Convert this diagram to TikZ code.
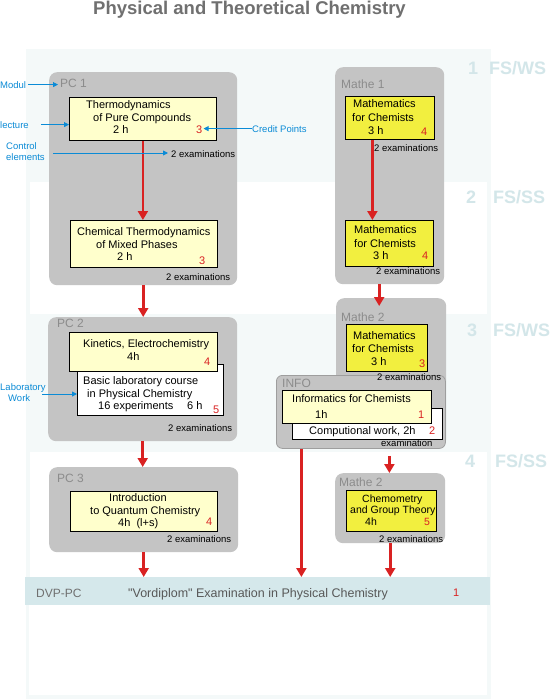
\documentclass[tikz,border=0pt]{standalone}
\usepackage{fontspec}
\setmainfont{Liberation Sans}
\newfontfamily\barfont{Liberation Sans}
\usetikzlibrary{arrows.meta}
\definecolor{palebg}{HTML}{F4F9F9}
\definecolor{barc}{HTML}{D5E8EB}
\definecolor{semc}{HTML}{D3E6E9}
\definecolor{grayb}{HTML}{C4C4C4}
\definecolor{lblgray}{HTML}{8C8C8C}
\definecolor{paley}{HTML}{FFFFCC}
\definecolor{brighty}{HTML}{F2EF3F}
\definecolor{redc}{HTML}{D92222}
\definecolor{bluec}{HTML}{0B8BD6}
\definecolor{titlec}{HTML}{707070}
\definecolor{bartxt}{HTML}{585858}
\tikzset{
  gbox/.style={fill=grayb, rounded corners=8pt, inner sep=0pt, anchor=north west},
  pbox/.style={draw=black, line width=0.8pt, fill=paley, inner sep=0pt, anchor=north west},
  ybox/.style={draw=black, line width=0.8pt, fill=brighty, inner sep=0pt, anchor=north west},
  wbox/.style={draw=black, line width=0.8pt, fill=white, inner sep=0pt, anchor=north west},
  txt/.style={anchor=base west, inner sep=0pt, font=\fontsize{11}{13}\selectfont},
  stxt/.style={anchor=base west, inner sep=0pt, font=\fontsize{10.5}{12}\selectfont},
  rtxt/.style={txt, text=redc},
  extxt/.style={anchor=base west, inner sep=0pt, font=\fontsize{9.5}{11}\selectfont},
  modlbl/.style={anchor=base west, inner sep=0pt, text=lblgray, font=\fontsize{12}{14}\selectfont},
  note/.style={anchor=base west, inner sep=0pt, text=bluec, font=\fontsize{9.5}{11}\selectfont},
  semlbl/.style={anchor=base west, inner sep=0pt, text=semc, font=\fontsize{18}{20}\selectfont\bfseries},
  redarrow/.style={draw=redc, line width=2.6pt, -{Triangle[width=10pt,length=9pt]}},
  bluearrow/.style={draw=bluec, line width=0.9pt, -{Triangle[width=5pt,length=5pt]}},
}
\begin{document}
\begin{tikzpicture}[x=1pt,y=-1pt]
\useasboundingbox (0,0) rectangle (550,699);
% background bands
\fill[white] (0,0) rectangle (550,699);
\fill[palebg] (26,49) rectangle (491,699);
\fill[white] (30,182) rectangle (487,314);
\fill[white] (30,452) rectangle (487,577);
\fill[white] (29,605) rectangle (487,695);
% title
\node[anchor=base, inner sep=0pt, text=titlec, font=\fontsize{18.5}{20}\selectfont\bfseries] (title) at (249.5,14) {Physical and Theoretical Chemistry};
% semester labels
\node[semlbl] (s1) at (468,74) {1};
\node[semlbl] (s1t) at (489,74) {FS/WS};
\node[semlbl] (s2) at (466,203) {2};
\node[semlbl] (s2t) at (493,203) {FS/SS};
\node[semlbl] (s3) at (467,336) {3};
\node[semlbl] (s3t) at (493,336) {FS/WS};
\node[semlbl] (s4) at (465,467) {4};
\node[semlbl] (s4t) at (495,467) {FS/SS};

% ---------- PC 1 ----------
\node[gbox, minimum width=188pt, minimum height=213pt] (pc1) at (49,72) {};
\node[modlbl] (pc1l) at (60,87) {PC 1};
\node[pbox, minimum width=147pt, minimum height=43pt] (pc1a) at (69,97) {};
\node[txt] (pc1a1) at (86,108) {Thermodynamics};
\node[txt] (pc1a2) at (93,121) {of Pure Compounds};
\node[txt] (pc1a3) at (113,133) {2 h};
\node[rtxt] (pc1acp) at (196,133) {3};
\node[extxt] (ex1) at (171,157) {2 examinations};
\node[pbox, minimum width=147pt, minimum height=47pt] (pc1b) at (70,220) {};
\node[txt] (pc1b1) at (77,235) {Chemical Thermodynamics};
\node[txt] (pc1b2) at (96,248) {of Mixed Phases};
\node[txt] (pc1b3) at (117,260) {2 h};
\node[rtxt] (pc1bcp) at (199,264) {3};
\node[extxt] (ex2) at (166,280) {2 examinations};

% ---------- Mathe 1 ----------
\node[gbox, minimum width=109pt, minimum height=217pt] (m1) at (335,67) {};
\node[modlbl] (m1l) at (341,88) {Mathe 1};
\node[ybox, minimum width=89pt, minimum height=43pt] (m1a) at (345,96) {};
\node[txt] (m1a1) at (353,107) {Mathematics};
\node[txt] (m1a2) at (352,121) {for Chemists};
\node[txt] (m1a3) at (368,134) {3 h};
\node[rtxt] (m1acp) at (421,135) {4};
\node[extxt] (ex3) at (374,151) {2 examinations};
\node[ybox, minimum width=88pt, minimum height=46pt] (m1b) at (345,220) {};
\node[txt] (m1b1) at (354,233) {Mathematics};
\node[txt] (m1b2) at (354,247) {for Chemists};
\node[txt] (m1b3) at (373,259) {3 h};
\node[rtxt] (m1bcp) at (422,259) {4};
\node[extxt] (ex4) at (376,274) {2 examinations};

% ---------- PC 2 ----------
\node[gbox, minimum width=189pt, minimum height=124pt] (pc2) at (48,317) {};
\node[modlbl] (pc2l) at (57,327) {PC 2};
\node[wbox, minimum width=146pt, minimum height=51pt] (pc2b) at (77,364) {};
\node[pbox, minimum width=148pt, minimum height=39pt] (pc2a) at (69,332) {};
\node[txt] (pc2a1) at (83,347) {Kinetics, Electrochemistry};
\node[txt] (pc2a2) at (127,360) {4h};
\node[rtxt] (pc2acp) at (204,365) {4};
\node[txt] (pc2b1) at (83,384) {Basic laboratory course};
\node[txt] (pc2b2) at (87,397) {in Physical Chemistry};
\node[txt] (pc2b3) at (98,409) {16 experiments};
\node[txt] (pc2b4) at (187,409) {6 h};
\node[rtxt] (pc2bcp) at (213,413) {5};
\node[extxt] (ex5) at (168,431) {2 examinations};

% ---------- Mathe 2 (semester 3) ----------
\node[gbox, minimum width=110pt, minimum height=149pt] (m2) at (336,298) {};
\node[modlbl] (m2l) at (341,321) {Mathe 2};
\node[ybox, minimum width=81pt, minimum height=47pt] (m2a) at (346,324) {};
\node[txt] (m2a1) at (353,339) {Mathematics};
\node[txt] (m2a2) at (352,352) {for Chemists};
\node[txt] (m2a3) at (371,365) {3 h};
\node[rtxt] (m2acp) at (419,367) {3};

% ---------- INFO ----------
\node[gbox, draw=black!38, line width=0.8pt, rounded corners=6pt, minimum width=169pt, minimum height=73pt] (info) at (276,375) {};
\node[modlbl] (infol) at (282,387) {INFO};
\node[wbox, minimum width=150pt, minimum height=31pt] (infob) at (292,408) {};
\node[pbox, minimum width=149pt, minimum height=33pt] (infoa) at (282,390) {};
\node[txt] (infoa1) at (292,402) {Informatics for Chemists};
\node[txt] (infoa2) at (315,418) {1h};
\node[rtxt] (infoacp) at (418,418) {1};
\node[txt] (infob1) at (309,434) {Computional work, 2h};
\node[rtxt] (infobcp) at (429,434) {2};
\node[extxt] (ex7) at (381,446) {examination};
\node[extxt] (ex6) at (377,380) {2 examinations};

% ---------- PC 3 ----------
\node[gbox, minimum width=189pt, minimum height=85pt] (pc3) at (49,467) {};
\node[modlbl] (pc3l) at (57,482) {PC 3};
\node[pbox, minimum width=147pt, minimum height=40pt] (pc3a) at (70,491) {};
\node[txt] (pc3a1) at (109,501) {Introduction};
\node[txt] (pc3a2) at (90,514) {to Quantum Chemistry};
\node[txt] (pc3a3) at (118,526) {4h\ \ (l+s)};
\node[rtxt] (pc3acp) at (206,525) {4};
\node[extxt] (ex8) at (167,542) {2 examinations};

% ---------- Mathe 2 (semester 4) ----------
\node[gbox, minimum width=110pt, minimum height=70pt] (m4) at (335,473) {};
\node[modlbl] (m4l) at (339,486) {Mathe 2};
\node[ybox, minimum width=90pt, minimum height=41pt] (m4a) at (346,490) {};
\node[stxt] (m4a1) at (362,502) {Chemometry};
\node[stxt] (m4a2) at (350,513) {and Group Theory};
\node[stxt] (m4a3) at (365,525) {4h};
\node[stxt, text=redc] (m4acp) at (424,525) {5};
\node[extxt] (ex9) at (379,542) {2 examinations};

% ---------- bottom bar ----------
\node[fill=barc, inner sep=0pt, anchor=north west, minimum width=465pt, minimum height=28pt] (bar) at (25,577) {};
\node[anchor=base west, inner sep=0pt, text=titlec, font=\fontsize{12}{14}\selectfont] (dvp) at (36,597) {DVP-PC};
\node[anchor=base west, inner sep=0pt, text=bartxt, font=\barfont\fontsize{12.5}{14}\selectfont] (vord) at (128,597) {"Vordiplom" Examination in Physical Chemistry};
\node[rtxt] (barcp) at (453,596) {1};

% ---------- red arrows ----------
\draw[redarrow] (pc1a.south) -- (pc1a.south |- pc1b.north);
\draw[redarrow] (pc1.south) -- (pc1.south |- pc2.north);
\draw[redarrow] (pc2.south) -- (pc2.south |- pc3.north);
\draw[redarrow] (pc3.south) -- (pc3.south |- bar.north);
\coordinate (m1aout) at ([xshift=-17.5pt]m1a.south);
\draw[redarrow] (m1aout) -- (m1aout |- m1b.north);
\coordinate (m1out) at ([xshift=-10.5pt]m1.south);
\draw[redarrow, shorten >=-8pt] (m1out) -- (m1out |- m2.north);
\coordinate (infoout) at ([xshift=-59.5pt]info.south);
\draw[redarrow] (infoout) -- (infoout |- bar.north);
\coordinate (infoout2) at ([xshift=28.5pt,yshift=-7pt]info.south);
\draw[redarrow] (infoout2) -- (infoout2 |- m4.north);
\draw[redarrow] (m4.south) -- (m4.south |- bar.north);

% ---------- blue annotations ----------
\node[note] (modul) at (0,88) {Modul};
\draw[bluearrow, shorten <=2pt, shorten >=2pt] (modul.east) -- (modul.east -| pc1l.west);
\node[note] (lect) at (0,128) {lecture};
\draw[bluearrow, shorten <=12pt] (lect.east) -- (lect.east -| pc1a.west);
\node[note] (ctrl1) at (6,149) {Control};
\node[note] (ctrl2) at (6,160) {elements};
\coordinate (ctrlsrc) at (53,153);
\draw[bluearrow, shorten >=3pt] (ctrlsrc) -- (ctrlsrc -| ex1.west);
\node[note] (credit) at (252,132) {Credit Points};
\draw[bluearrow, shorten >=1pt] (credit.west) -- (credit.west -| pc1acp.east);
\node[note] (lab1) at (0,390) {Laboratory};
\node[note] (lab2) at (8,401) {Work};
\coordinate (labsrc) at (42,394);
\draw[bluearrow] (labsrc) -- (labsrc -| pc2b.west);
\end{tikzpicture}
\end{document}
